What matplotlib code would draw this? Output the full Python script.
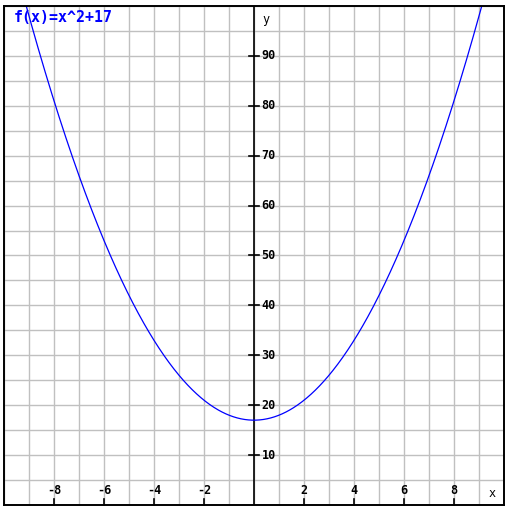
import numpy as np
import matplotlib.pyplot as plt

# function shown in the chart: f(x) = x^2 + 17
title = "f(x)=x^2+17"
x = np.linspace(-10, 10, 801)
y = x**2 + 17

x_ticks = [-8, -6, -4, -2, 2, 4, 6, 8]
y_ticks = [10, 20, 30, 40, 50, 60, 70, 80, 90]
x_grid = np.arange(-10, 11, 1)
y_grid = np.arange(0, 101, 5)

fig = plt.figure(figsize=(5.12, 5.16), dpi=100)
ax = fig.add_axes([4 / 512, 11 / 516, 500 / 512, 499 / 516])
ax.set_xlim(-10, 10)
ax.set_ylim(0, 100)

ax.set_xticks(x_grid)
ax.set_yticks(y_grid)
ax.tick_params(length=0, labelbottom=False, labelleft=False)
ax.grid(True, color='#c0c0c0', linewidth=1)
ax.set_axisbelow(True)
for s in ax.spines.values():
    s.set_linewidth(1.4)
    s.set_color('black')

# y axis at x = 0
ax.axvline(0, color='black', linewidth=1.2)

mono = dict(family='DejaVu Sans Mono', fontsize=8.5, fontweight='bold')
for t in x_ticks:
    ax.plot([t, t], [0, 1.3], color='black', linewidth=1.2, clip_on=False)
    ax.text(t, 2.9, str(t), ha='center', va='center', **mono)
for t in y_ticks:
    ax.plot([-0.2, 0.2], [t, t], color='black', linewidth=1.2)
    ax.text(0.3, t, str(t), ha='left', va='center', **mono)

ax.text(9.52, 2.4, 'x', ha='center', va='center', family='DejaVu Sans Mono', fontsize=8.5)
ax.text(0.48, 97.2, 'y', ha='center', va='center', family='DejaVu Sans Mono', fontsize=8.5)

ax.plot(x, y, color='#0000ff', linewidth=0.9)
ax.text(-9.6, 97.6, title, ha='left', va='center', color='#0000ff',
        family='DejaVu Sans Mono', fontsize=10.8, fontweight='bold')

fig.savefig('out.png', dpi=100, facecolor='white')
